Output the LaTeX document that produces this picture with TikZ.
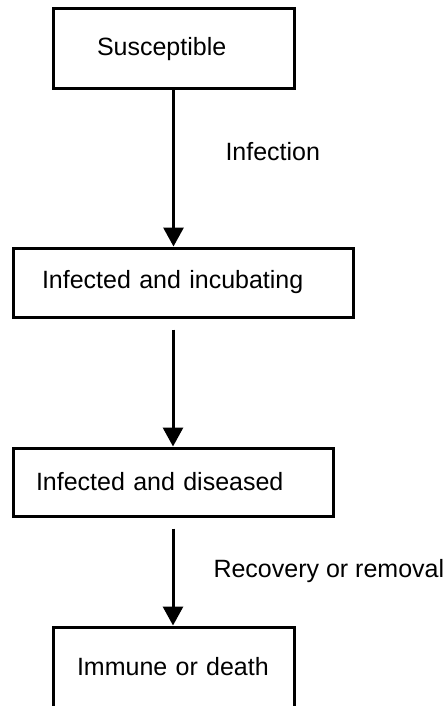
\documentclass[tikz,border=0pt]{standalone}
\usepackage{fontspec}
\setmainfont{Liberation Sans}
\usetikzlibrary{arrows.meta,positioning,calc}

\begin{document}
\begin{tikzpicture}[x=1pt, y=-1pt,
    stage/.style={draw, line width=3pt, align=left, inner ysep=0pt, font=\fontsize{25}{30}\selectfont},
    flow/.style={line width=3pt, -{Triangle[length=19pt, width=20pt]}},
    note/.style={anchor=west, font=\fontsize{25}{30}\selectfont}]
    \useasboundingbox (0,0) rectangle (444,706);

    % Stages
    \node[stage, inner xsep=44pt, text width=153pt, minimum height=80pt] (susc) at (173.5,49) {Susceptible};
    \node[stage, inner xsep=29pt, text width=282pt, minimum height=69pt] (incub) at (183,282.5) {Infected and incubating};
    \node[stage, inner xsep=23pt, text width=274pt, minimum height=68pt] (dis) at (173,482) {Infected and diseased};
    \node[stage, inner xsep=24pt, text width=193pt, minimum height=80pt] (immune) at (173.5,667) {Immune or death};

    % Transitions
    \draw[flow] (susc.south) -- (susc.south |- incub.north);
    \draw[flow, shorten <=11pt] (incub.south -| dis.north) -- (dis.north);
    \draw[flow, shorten <=11pt] (dis.south) -- (dis.south |- immune.north);

    \node[note] (infection) at (222,152) {Infection};
    \node[note] (recovery) at (210,571) {Recovery or removal};
\end{tikzpicture}
\end{document}
